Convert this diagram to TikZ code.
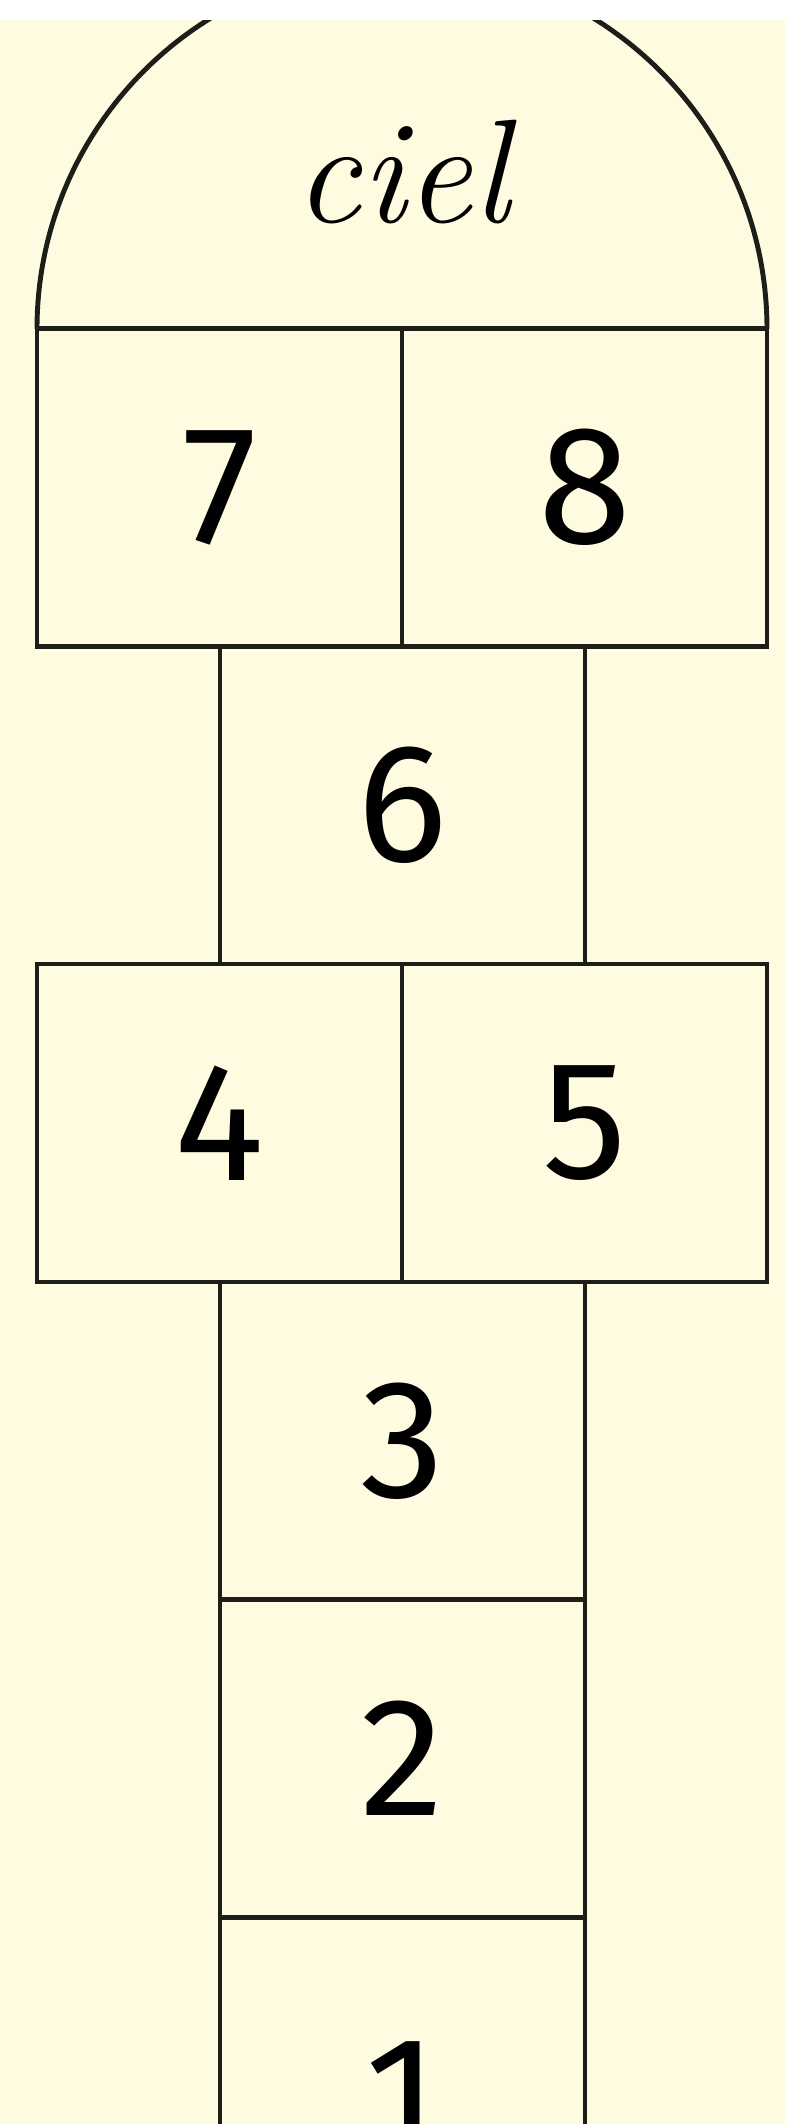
\documentclass[tikz,border=0pt]{standalone}
\usepackage{fontspec}
\newfontfamily\digitfont{Fira Sans}
\usepackage{tikz}
\usetikzlibrary{positioning}
\definecolor{paper}{RGB}{255,251,225}
\definecolor{chalk}{RGB}{30,30,24}

\begin{document}
\begin{tikzpicture}[
    cell/.style={draw=chalk, line width=1.4pt, minimum width=3.65cm,
                 minimum height=3.18cm, inner sep=0pt, text=black,
                 font=\digitfont\fontsize{48}{48}\selectfont},
  ]
  \useasboundingbox (0,0) rectangle (7.85,-21.24);
  \fill[white] (0,0) rectangle (7.85,-21.24);
  \fill[paper] (0,-0.2) rectangle (7.85,-21.24);

  \begin{scope}
    \clip (0,-0.2) rectangle (7.85,-21.24);

    % two-wide rows and the single column
    \foreach \n/\x/\y in {7/2.195/-4.875, 8/5.845/-4.875, 6/4.025/-8.05,
                          4/2.195/-11.23, 5/5.845/-11.23, 3/4.025/-14.41,
                          2/4.025/-17.585}
      \node[cell] (c\n) at (\x,\y) {\n};
    \node[cell, minimum height=3.62cm] (c1) at (4.025,-20.98) {1};

    % sky: half circle on top of 7 and 8
    \draw[chalk, line width=1.4pt] (0.37,-3.29) arc[start angle=180, end angle=0,
      radius=3.65];
    \node[anchor=base, font=\itshape\fontsize{42}{42}\selectfont] (sky)
      at (4.02,-2.22) {ciel};
  \end{scope}
\end{tikzpicture}
\end{document}
